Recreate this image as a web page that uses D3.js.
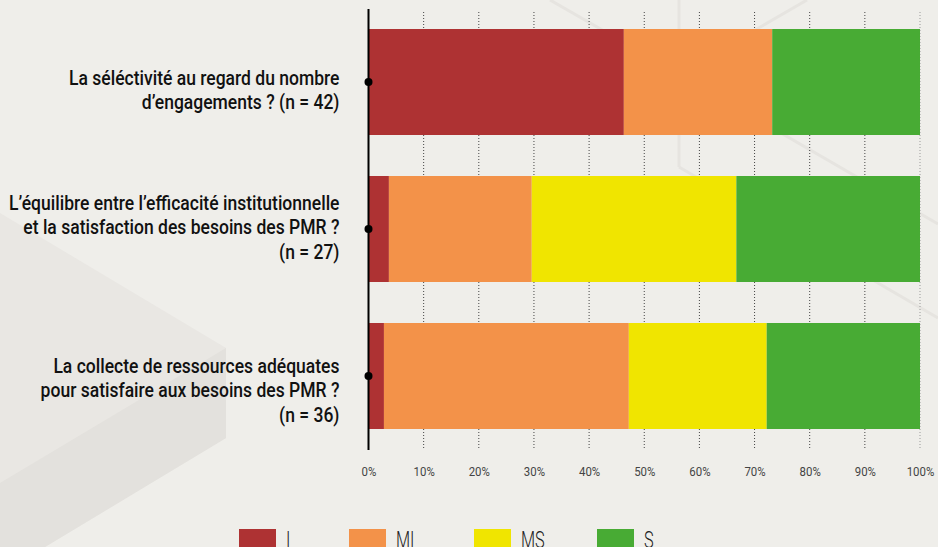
<!DOCTYPE html>
<html><head><meta charset="utf-8">
<script src="https://cdn.jsdelivr.net/npm/d3@7"></script>
<style>
html,body{margin:0;padding:0;background:#efeeea;}
svg{display:block;}
text{font-family:Roboto,"Liberation Sans",sans-serif;}
</style></head>
<body>
<svg id="chart" width="938" height="547"></svg>
<script>
// ---- data ----
const categories = ["q1", "q2", "q3"];
const labelLines = [
  ["La séléctivité au regard du nombre", "d’engagements ? (n = 42)"],
  ["L’équilibre entre l’efficacité institutionnelle", "et la satisfaction des besoins des PMR ?", "(n = 27)"],
  ["La collecte de ressources adéquates", "pour satisfaire aux besoins des PMR ?", "(n = 36)"]
];
const seriesNames = ["I", "MI", "MS", "S"];
const valuesI  = [46.3, 3.7, 2.8];
const valuesMI = [26.9, 25.9, 44.4];
const valuesMS = [0, 37.1, 25.0];
const valuesS  = [26.8, 33.3, 27.8];
const tickValues = [0, 10, 20, 30, 40, 50, 60, 70, 80, 90, 100];

// ---- styling ----
const colors = ["#ae3233", "#f39249", "#f0e500", "#48ab34"];
const labelShift = [3, -19, -3];

const svg = d3.select("#chart");
const W = 938, H = 547;

// background decoration
svg.append("rect").attr("width", W).attr("height", H).attr("fill", "#efeeea");
svg.append("polygon").attr("points", "0,213 226,348 226,438 45,547 0,547").attr("fill", "#e9e7e3");
svg.append("polygon").attr("points", "0,483 226,348 226,438 45,547 0,547").attr("fill", "#e3e1dd");
const deco = [[550,0,679,74],[807,0,679,74],[679,0,679,167],[679,74,938,224],[679,167,938,318]];
svg.selectAll("line.deco").data(deco).join("line").attr("class","deco")
  .attr("x1", d=>d[0]).attr("y1", d=>d[1]).attr("x2", d=>d[2]).attr("y2", d=>d[3])
  .attr("stroke", "#e6e4e0").attr("stroke-width", 3);

// scales
const x = d3.scaleLinear().domain([0, 100]).range([368.5, 920]);
const y = d3.scaleBand().domain(categories).range([8.5, 449.5]).paddingInner(0.279).paddingOuter(0.1395);

// grid
svg.selectAll("line.grid").data(tickValues.filter(t => t > 0)).join("line").attr("class","grid")
  .attr("x1", d => x(d)).attr("x2", d => x(d)).attr("y1", 12).attr("y2", 450)
  .attr("stroke", d => d === 100 ? "#999" : "#444").attr("stroke-width", 1)
  .attr("stroke-dasharray", "1,2");

// stacked bars
const table = categories.map((c, i) => ({cat: c, I: valuesI[i], MI: valuesMI[i], MS: valuesMS[i], S: valuesS[i]}));
const stacked = d3.stack().keys(seriesNames)(table);
svg.append("g").selectAll("g").data(stacked).join("g")
  .attr("fill", (d, i) => colors[i])
  .selectAll("rect").data(d => d).join("rect")
  .attr("x", d => x(d[0])).attr("width", d => x(d[1]) - x(d[0]))
  .attr("y", d => y(d.data.cat)).attr("height", y.bandwidth());

// zero axis
svg.append("line").attr("x1", x(0)).attr("x2", x(0)).attr("y1", 9).attr("y2", 450)
  .attr("stroke", "#000").attr("stroke-width", 2);
svg.selectAll("circle.dot").data(categories).join("circle").attr("class","dot")
  .attr("cx", x(0)).attr("cy", d => y(d) + y.bandwidth()/2).attr("r", 4).attr("fill", "#000");

// x tick labels (condensed by horizontal scaling)
const axis = d3.axisBottom(x).tickValues(tickValues).tickSize(0).tickFormat(d => d + "%");
const ag = svg.append("g").attr("transform", "translate(0,464)").call(axis);
ag.select(".domain").remove();
ag.selectAll("text").attr("font-size", 12.7).attr("fill", "#444")
  .style("font-family", "Roboto, sans-serif")
  .attr("transform", "scale(0.9,1)");

// category labels
const lg = svg.append("g").attr("transform", "translate(339.5,0)");
categories.forEach((c, i) => {
  const cy = y(c) + y.bandwidth()/2 + labelShift[i];
  const t = lg.append("text").attr("text-anchor", "end")
    .attr("font-size", 20).attr("font-weight", 500).attr("fill", "#111");
  labelLines[i].forEach((line, j) => {
    t.append("tspan").attr("x", 0).attr("y", cy + j * 24.5).text(line);
  });
});
let maxW = 0;
lg.selectAll("tspan").each(function(){ maxW = Math.max(maxW, this.getComputedTextLength()); });
const sx = maxW > 0 ? 330.5 / maxW : 1;
lg.attr("transform", `translate(339.5,0) scale(${sx},1)`);

// legend
const legX = [239, 349, 474, 597];
const leg = svg.append("g");
seriesNames.forEach((s, i) => {
  leg.append("rect").attr("x", legX[i]).attr("y", 529).attr("width", 37).attr("height", 22).attr("fill", colors[i]);
  leg.append("text").attr("transform", `translate(${legX[i] + 47},547.5) scale(0.68,1)`)
    .attr("font-size", 24).attr("font-weight", 300).attr("fill", "#222").text(s);
});
</script>
</body></html>
